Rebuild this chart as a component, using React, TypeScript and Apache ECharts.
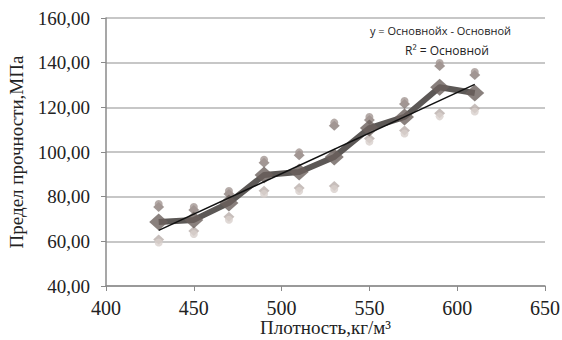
import React, { useEffect, useRef } from "react";
import * as echarts from "echarts";

const densities = [430, 450, 470, 490, 510, 530, 550, 570, 590, 610];
const meanStrength = [68.7, 69.6, 77.2, 89.7, 91.0, 97.8, 110.7, 115.7, 129.0, 126.4];
const upperStrength = [75.4, 74.0, 81.2, 95.2, 98.5, 111.8, 114.3, 121.5, 138.5, 134.5];
const lowerStrength = [60.8, 64.6, 71.0, 82.6, 83.9, 84.8, 106.0, 109.6, 117.3, 119.5];
const trendX = [430, 610];
const trendY = [64.9, 130.3];
const equationLines = ["y = Основнойx - Основной", "R² = Основной"];

export default function App() {
  const ref = useRef<HTMLDivElement>(null);
  useEffect(() => {
    if (!ref.current) return;
    const chart = echarts.init(ref.current, undefined, { renderer: "svg" });
    const pts = (ys: number[]) => densities.map((x, i) => [x, ys[i]]);
    const serif = "'Liberation Serif', 'Times New Roman', serif";
    chart.setOption({
      animation: false,
      backgroundColor: "#ffffff",
      grid: { left: 106, right: 17, top: 18, bottom: 54, outerBoundsMode: "none", containLabel: false },
      xAxis: {
        type: "value",
        min: 400,
        max: 650,
        interval: 50,
        name: "Плотность,кг/м³",
        nameLocation: "middle",
        nameGap: 32,
        nameMoveOverlap: false,
        nameTextStyle: { fontFamily: serif, fontSize: 19, color: "#222" },
        axisLine: { show: true, lineStyle: { color: "#8a8a8a", width: 1.5 } },
        axisTick: { show: true, length: 5, inside: false, lineStyle: { color: "#8a8a8a" } },
        axisLabel: { fontFamily: serif, fontSize: 20, color: "#222", margin: 12 },
        splitLine: { show: false },
      },
      yAxis: {
        type: "value",
        min: 40,
        max: 160,
        interval: 20,
        name: "Предел прочности,МПа",
        nameLocation: "middle",
        nameGap: 80,
        nameMoveOverlap: false,
        nameTextStyle: { fontFamily: serif, fontSize: 19, color: "#222" },
        axisLine: { show: true, lineStyle: { color: "#8a8a8a", width: 1.5 } },
        axisTick: { show: true, length: 5, lineStyle: { color: "#8a8a8a" } },
        axisLabel: {
          fontFamily: serif,
          fontSize: 19,
          color: "#222",
          margin: 8,
          padding: [0, 8, 0, 0],
          formatter: (v: number) => v.toFixed(2).replace(".", ","),
        },
        splitLine: { show: true, lineStyle: { color: "#b5b5b5", width: 1.5 } },
      },
      graphic: [
        {
          type: "text",
          left: 370,
          top: 25,
          style: {
            text: equationLines[0],
            fontFamily: "'Open Sans', sans-serif",
            fontSize: 11,
            fill: "#222",
          },
        },
        {
          type: "text",
          left: 405,
          top: 44,
          style: {
            text: equationLines[1],
            fontFamily: "'Open Sans', sans-serif",
            fontSize: 12,
            fill: "#222",
          },
        },
      ],
      series: [
        {
          type: "line",
          data: pts(meanStrength),
          symbol: "none",
          lineStyle: { color: "#5c5856", width: 6, join: "round" },
          z: 2,
        },
        {
          type: "scatter",
          data: pts(lowerStrength),
          symbol: "diamond",
          symbolSize: [11, 10],
          itemStyle: { color: "#b9aeaa" },
          z: 3,
        },
        {
          type: "scatter",
          data: pts(lowerStrength),
          symbol: "circle",
          symbolSize: 8,
          symbolOffset: [0, 3],
          itemStyle: { color: "#d8cfcc" },
          z: 3,
        },
        {
          type: "scatter",
          data: pts(upperStrength),
          symbol: "diamond",
          symbolSize: [11, 10],
          itemStyle: { color: "#8a7d79" },
          z: 3,
        },
        {
          type: "scatter",
          data: pts(upperStrength),
          symbol: "circle",
          symbolSize: 8,
          symbolOffset: [0, -3],
          itemStyle: { color: "#a39692" },
          z: 3,
        },
        {
          type: "scatter",
          data: pts(meanStrength),
          symbol: "diamond",
          symbolSize: [19, 17],
          itemStyle: { color: "#6b605c" },
          z: 4,
        },
        {
          type: "line",
          data: trendX.map((x, i) => [x, trendY[i]]),
          symbol: "none",
          lineStyle: { color: "#111111", width: 1.5 },
          z: 5,
        },
      ],
    });
    return () => chart.dispose();
  }, []);
  return (
    <div
      ref={ref}
      style={{ position: "fixed", left: 0, top: 0, width: 562, height: 340 }}
    />
  );
}
